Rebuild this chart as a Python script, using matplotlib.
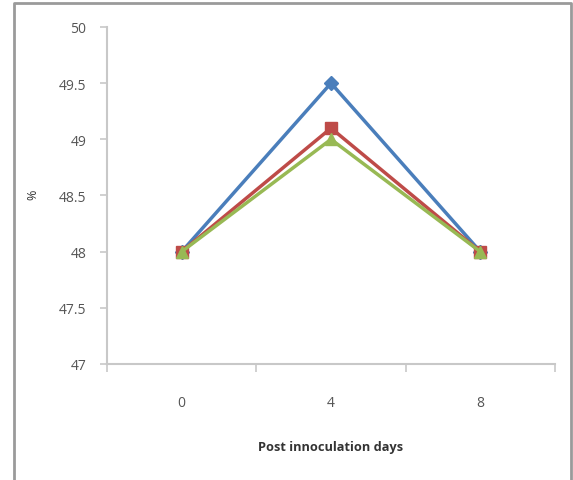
import matplotlib.pyplot as plt
from matplotlib.lines import Line2D

days = ['0', '4', '8']
series_blue = [48.0, 49.5, 48.0]
series_red = [48.0, 49.1, 48.0]
series_green = [48.0, 49.0, 48.0]
y_ticks = [47, 47.5, 48, 48.5, 49, 49.5, 50]
y_labels = ['47', '47.5', '48', '48.5', '49', '49.5', '50']

plt.rcParams['font.family'] = ['Open Sans', 'DejaVu Sans']

fig = plt.figure(figsize=(5.73, 4.81), dpi=100)
ax = fig.add_axes([107/573, 1-365/481, (555-107)/573, (365-28)/481])

x = range(len(days))
ax.plot(x, series_blue, color='#4a7ebb', lw=2.5, marker='D', ms=7)
ax.plot(x, series_red, color='#be4b48', lw=2.5, marker='s', ms=9)
ax.plot(x, series_green, color='#98b954', lw=2.5, marker='^', ms=9)

ax.set_xlim(-0.5, 2.5)
ax.set_ylim(47, 50)
ax.set_xticks(list(x))
ax.set_xticklabels(days)
ax.set_xticks([-0.5, 0.5, 1.5, 2.5], minor=True)
ax.tick_params(axis='x', which='major', length=0, pad=22, labelsize=10, labelcolor='#555555')
ax.tick_params(axis='x', which='minor', length=6, color='#c8c8c8', width=1.2)
ax.set_yticks(y_ticks)
ax.set_yticklabels(y_labels)
ax.tick_params(axis='y', length=5, color='#c8c8c8', width=1.2, pad=10, labelsize=10, labelcolor='#555555')

for s in ['top', 'right']:
    ax.spines[s].set_visible(False)
for s in ['left', 'bottom']:
    ax.spines[s].set_color('#c8c8c8')
    ax.spines[s].set_linewidth(1.5)

ax.set_xlabel('Post innoculation days', fontsize=9.2, fontweight='bold', color='#333333', labelpad=22)
fig.text(33/573, 1-195/481, '%', rotation=90, fontsize=9, color='#333333', ha='center', va='center')

# outer frame
fig.add_artist(Line2D([14/573, 14/573, 571/573, 571/573], [0, 1-4/481, 1-4/481, 0],
                      transform=fig.transFigure, color='#9a9a9a', lw=2))

fig.savefig('out.png', dpi=100)
